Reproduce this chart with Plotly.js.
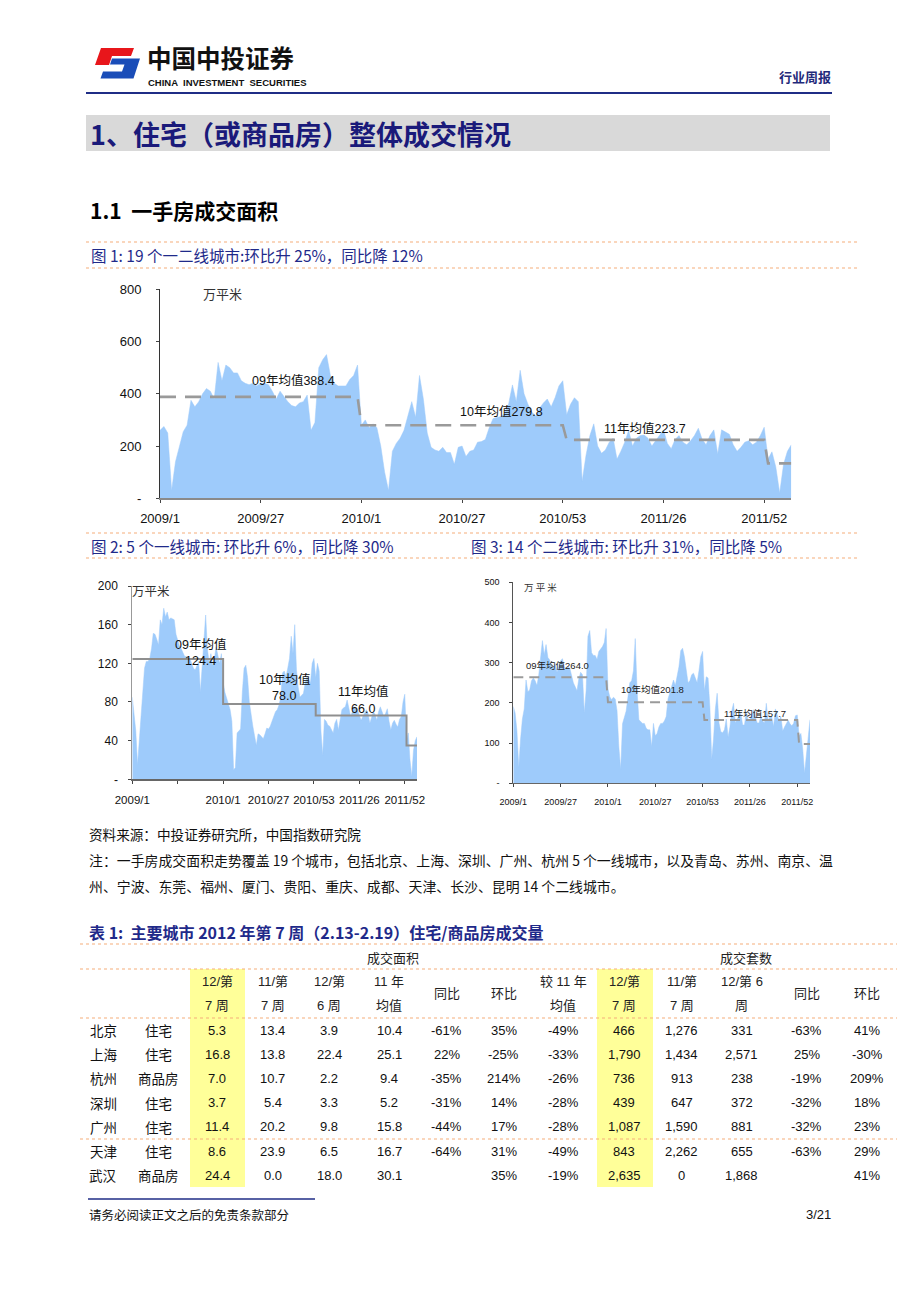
<!DOCTYPE html>
<html><head><meta charset="utf-8">
<script src="https://cdn.plot.ly/plotly-3.0.1.min.js"></script>
<style>html,body{margin:0;padding:0;background:#fff}</style>
</head><body><div id="chart" style="width:920px;height:1302px"></div>
<script>
// ---------------- DATA ----------------
const years = ['2009', '2010', '2011', '2012'];
const weeksPerYear = [52, 53, 52, 7];
const tickWeeks = ['2009/1', '2009/27', '2010/1', '2010/27', '2010/53', '2011/26', '2011/52'];
const tickText2 = ['2009/1', '', '2010/1', '2010/27', '2010/53', '2011/26', '2011/52'];

// 19 cities weekly new-home transaction area (万平米)
const area19 = [260,275,250,30,140,200,255,280,375,350,
  370,400,420,410,380,520,450,510,500,480,
  480,450,440,435,440,430,440,440,435,410,
  380,410,390,370,355,350,365,370,395,260,
  290,500,530,550,470,440,430,430,430,455,
  470,510,280,300,270,285,270,200,100,30,
  180,210,230,260,320,370,310,470,380,250,
  195,185,180,195,175,175,130,195,200,160,
  180,185,215,217,225,270,305,310,313,325,
  360,434,370,490,400,360,330,315,345,365,
  380,350,385,430,450,320,360,385,370,65,
  165,240,285,200,172,185,215,230,150,180,
  215,260,200,230,240,242,230,200,220,240,
  262,210,190,225,240,215,205,220,240,268,
  225,205,240,262,170,262,255,245,205,180,
  195,215,220,205,215,240,272,150,178,120,
  20,130,180,205];
// 5 first-tier cities
const area5 = [85,70,50,15,40,65,90,115,122,122,
  125,135,151,150,145,139,165,160,177,168,
  173,165,167,166,165,150,143,138,135,130,
  127,127,125,125,120,115,113,118,122,90,
  120,150,170,135,120,130,118,125,137,128,
  120,130,100,90,84,78,72,60,10,12,
  48,50,52,90,115,118,105,80,65,55,
  45,35,47,46,44,42,47,53,52,55,
  60,65,70,72,77,85,110,112,106,115,
  125,148,130,160,113,95,85,87,89,100,
  106,103,100,120,125,105,120,112,50,25,
  62,60,56,55,52,48,58,62,51,62,
  72,74,75,82,72,65,70,75,73,72,
  66,61,65,68,72,68,58,64,70,67,
  61,70,75,70,65,68,73,60,51,58,
  61,57,54,62,65,80,88,40,48,20,
  3,30,40,44];
// 14 second-tier cities
const area14 = [191,175,130,40,110,160,185,257,228,232,
  255,262,255,243,270,320,355,320,345,313,
  307,292,285,298,276,290,305,310,290,285,
  288,287,265,250,240,230,260,276,270,175,
  230,365,380,325,318,318,308,328,334,340,
  350,385,235,215,208,214,210,180,90,35,
  148,168,180,215,250,255,280,360,230,158,
  152,149,149,137,133,133,91,149,118,124,
  140,149,149,155,166,210,225,245,257,243,
  268,290,330,336,315,282,250,255,270,274,
  264,250,280,315,328,230,265,262,190,60,
  110,185,224,150,128,126,133,160,115,140,
  180,199,150,160,170,174,145,145,178,155,
  155,172,183,165,150,150,166,155,150,199,
  155,165,165,141,185,170,155,166,130,140,
  150,157,148,143,149,168,170,118,124,85,
  25,75,120,158];

// yearly averages (09, 10, 11, 12)
const avg19 = [388.4, 279.8, 223.7, 133.6];
const avg5 = [124.4, 78.0, 66.0, 35.0];
const avg14 = [264.0, 201.8, 157.7, 98.0];
const avgLabel19 = ['09年均值388.4', '10年均值279.8', '11年均值223.7'];
const avgLabel5a = ['09年均值', '10年均值', '11年均值'];
const avgLabel5b = ['124.4', '78.0', '66.0'];
const avgLabel14 = ['09年均值264.0', '10年均值201.8', '11年均值157.7'];

// Table 1
const cities = ['北京', '上海', '杭州', '深圳', '广州', '天津', '武汉'];
const types = ['住宅', '住宅', '商品房', '住宅', '住宅', '住宅', '商品房'];
const area12w7 = [5.3, 16.8, 7.0, 3.7, 11.4, 8.6, 24.4];
const area11w7 = [13.4, 13.8, 10.7, 5.4, 20.2, 23.9, 0.0];
const area12w6 = [3.9, 22.4, 2.2, 3.3, 9.8, 6.5, 18.0];
const area11avg = [10.4, 25.1, 9.4, 5.2, 15.8, 16.7, 30.1];
const areaYoY = [-61, 22, -35, -31, -44, -64, null];
const areaWoW = [35, -25, 214, 14, 17, 31, 35];
const areaVsAvg = [-49, -33, -26, -28, -28, -49, -19];
const units12w7 = [466, 1790, 736, 439, 1087, 843, 2635];
const units11w7 = [1276, 1434, 913, 647, 1590, 2262, 0];
const units12w6 = [331, 2571, 238, 372, 881, 655, 1868];
const unitsYoY = [-63, 25, -19, -32, -32, -63, null];
const unitsWoW = [41, -30, 209, 18, 23, 29, 41];
const hdrTop = ['12/第', '11/第', '12/第', '11 年', '', '', '较 11 年', '12/第', '11/第', '12/第 6', '', ''];
const hdrBot = ['7 周', '7 周', '6 周', '均值', '', '', '均值', '7 周', '7 周', '周', '', ''];
const hdrMid = ['', '', '', '', '同比', '环比', '', '', '', '', '同比', '环比'];

// ---------------- BUILD ----------------
const W = 920, H = 1302;
const PX = x => x / W, PY = y => 1 - y / H;
const CJK = 'Noto Sans CJK SC, sans-serif';
const LAT = 'Liberation Sans, Arial, Noto Sans CJK SC, sans-serif';

const weeks = [];
years.forEach((yr, k) => { for (let w = 1; w <= weeksPerYear[k]; w++) weeks.push(yr + '/' + w); });

function meanXY(avg) {
  const x = [], y = [];
  years.forEach((yr, k) => { x.push(yr + '/1'); y.push(avg[k]); x.push(yr + '/' + weeksPerYear[k]); y.push(avg[k]); });
  return {x, y};
}

const FILL = '#9ECBFB';
const traces = [];
function areaTrace(vals, xa, ya) {
  return {type: 'scatter', mode: 'lines', x: weeks, y: vals, xaxis: xa, yaxis: ya,
    fill: 'tozeroy', fillcolor: FILL, line: {color: FILL, width: 0.5}, hoverinfo: 'skip'};
}
traces.push(areaTrace(area19, 'x', 'y'));
traces.push(areaTrace(area5, 'x2', 'y2'));
traces.push(areaTrace(area14, 'x3', 'y3'));
const m1 = meanXY(avg19), m2 = meanXY(avg5), m3 = meanXY(avg14);
traces.push({type: 'scatter', mode: 'lines', x: m1.x, y: m1.y, xaxis: 'x', yaxis: 'y',
  line: {color: '#9a9a9a', width: 2.6, dash: '16px,9px'}, hoverinfo: 'skip'});
traces.push({type: 'scatter', mode: 'lines', x: m2.x, y: m2.y, xaxis: 'x2', yaxis: 'y2',
  line: {color: '#8f8f8f', width: 2, shape: 'hv'}, hoverinfo: 'skip'});
traces.push({type: 'scatter', mode: 'lines', x: m3.x, y: m3.y, xaxis: 'x3', yaxis: 'y3',
  line: {color: '#9a9a9a', width: 2, dash: '10px,6px'}, hoverinfo: 'skip'});

function xAx(d, size, ticktext, lineColor, lineW, standoff) {
  return {domain: d, type: 'category', range: [0, weeks.length - 1], tickvals: tickWeeks, ticktext: ticktext,
    showgrid: false, zeroline: false, showline: true, linecolor: lineColor, linewidth: lineW,
    ticks: 'outside', ticklen: 3, tickcolor: '#444', tickangle: 0, ticklabelstandoff: standoff,
    tickfont: {family: LAT, size: size, color: '#111'}, fixedrange: true};
}
function yAx(d, r, vals, size, lineColor, standoff) {
  return {domain: d, range: r, tickvals: vals, ticktext: vals.map(v => v === 0 ? '-' : String(v)),
    showgrid: false, zeroline: false, showline: true, linecolor: lineColor, linewidth: 1,
    ticks: 'outside', ticklen: 3, tickcolor: '#444', ticklabelstandoff: standoff,
    tickfont: {family: LAT, size: size, color: '#111'}, fixedrange: true};
}

const layout = {
  width: W, height: H, margin: {l: 0, r: 0, t: 0, b: 0}, showlegend: false,
  paper_bgcolor: '#fff', plot_bgcolor: 'rgba(0,0,0,0)',
  xaxis: xAx([PX(160), PX(791.3)], 13, tickWeeks, '#8a8a8a', 2, 4),
  yaxis: yAx([PY(498.3), PY(289.3)], [0, 800], [0, 200, 400, 600, 800], 13, '#333', 12),
  xaxis2: Object.assign(xAx([PX(132.3), PX(417)], 11.5, tickText2, '#666', 1.5, 6), {anchor: 'y2'}),
  yaxis2: Object.assign(yAx([PY(779.3), PY(586)], [0, 200], [0, 40, 80, 120, 160, 200], 12, '#999', 8), {anchor: 'x2'}),
  xaxis3: Object.assign(xAx([PX(513.3), PX(810)], 9, tickWeeks, '#666', 1, 7), {anchor: 'y3'}),
  yaxis3: Object.assign(yAx([PY(783.3), PY(582.3)], [0, 500], [0, 100, 200, 300, 400, 500], 9, '#555', 8), {anchor: 'x3'}),
  shapes: [], annotations: []
};
layout.xaxis.anchor = 'y'; layout.yaxis.anchor = 'x';

const S = layout.shapes, A = layout.annotations;
function line(x0, y0, x1, y1, color, w, dash) {
  S.push({type: 'line', xref: 'paper', yref: 'paper', x0: PX(x0), y0: PY(y0), x1: PX(x1), y1: PY(y1),
    line: {color: color, width: w, dash: dash || 'solid'}, layer: 'below'});
}
function rect(x0, y0, x1, y1, fill) {
  S.push({type: 'rect', xref: 'paper', yref: 'paper', x0: PX(x0), y0: PY(y0), x1: PX(x1), y1: PY(y1),
    fillcolor: fill, line: {width: 0}, layer: 'below'});
}
function path(pts, fill) {
  const d = pts.map((p, i) => (i ? 'L' : 'M') + PX(p[0]).toFixed(5) + ',' + PY(p[1]).toFixed(5)).join(' ') + ' Z';
  S.push({type: 'path', xref: 'paper', yref: 'paper', path: d, fillcolor: fill, line: {width: 0}, layer: 'below'});
}
function txt(text, x, y, size, color, family, xanchor, extra) {
  A.push(Object.assign({text: text, x: PX(x), y: PY(y), xref: 'paper', yref: 'paper', showarrow: false,
    xanchor: xanchor || 'left', yanchor: 'middle', borderpad: 0,
    font: {family: family || CJK, size: size, color: color || '#000'}}, extra || {}));
}

// ---- header ----
path([[101, 48], [134, 48], [131, 56], [112, 56], [109, 65], [95, 65]], '#E8161B');
path([[112, 58.5], [140, 58.5], [133.5, 78.5], [100.5, 78.5], [103, 71.5], [122, 71.5], [124.5, 64.5], [110, 64.5]], '#1A4DB8');
txt('<b>中国中投证券</b>', 146, 58, 24.5, '#111', CJK);
txt('<b>CHINA  INVESTMENT  SECURITIES</b>', 147, 82, 9.5, '#111', 'Liberation Sans Narrow, Arial Narrow, sans-serif');
txt('<b>行业周报</b>', 832, 76, 13, '#1F2A7A', CJK, 'right');
line(86, 93, 832, 93, '#1F2D86', 1.8);

// ---- section heading ----
rect(86, 115, 830, 151, '#D9D9D9');
txt('<b>1、住宅（或商品房）整体成交情况</b>', 89, 133, 27, '#1A1A7A', CJK);
txt('<b>1.1  一手房成交面积</b>', 89, 210, 21, '#000', CJK);

// ---- captions ----
const ORANGE = '#F5AE7A';
line(86, 242, 857, 242, ORANGE, 1.2, 'dot');
line(86, 268, 857, 268, ORANGE, 1.2, 'dot');
txt('图 1: 19 个一二线城市:环比升 25%，同比降 12%', 90, 255, 15.5, '#1F2A8A', CJK);
line(86, 533, 857, 533, ORANGE, 1.2, 'dot');
line(86, 558, 857, 558, ORANGE, 1.2, 'dot');
txt('图 2: 5 个一线城市: 环比升 6%，同比降 30%', 90, 546, 15.5, '#1F2A8A', CJK);
txt('图 3: 14 个二线城市: 环比升 31%，同比降 5%', 470, 546, 15.5, '#1F2A8A', CJK);

// ---- chart inner labels ----
txt('万平米', 202, 293, 13, '#333', CJK);
txt(avgLabel19[0], 293, 380, 12.5, '#111', LAT, 'center');
txt(avgLabel19[1], 502, 411, 12.5, '#111', LAT, 'center');
txt(avgLabel19[2], 645, 428, 12.5, '#111', LAT, 'center');

txt('万平米', 131, 590, 12.5, '#333', CJK);
const c2x = [200, 284, 363];
const c2y = [644, 679, 692];
avgLabel5a.forEach((t, i) => { txt(t, c2x[i], c2y[i], 12.5, '#111', LAT, 'center'); txt(avgLabel5b[i], c2x[i], c2y[i] + 17, 12.5, '#111', LAT, 'center'); });

txt('万 平 米', 523, 587, 9.5, '#333', CJK);
txt(avgLabel14[0], 557, 665, 9.5, '#222', LAT, 'center');
txt(avgLabel14[1], 652, 689.5, 9.5, '#222', LAT, 'center');
txt(avgLabel14[2], 755, 713, 9.5, '#222', LAT, 'center');

// ---- notes ----
txt('资料来源：中投证券研究所，中国指数研究院', 88, 834, 13.6, '#111', CJK);
txt('注：一手房成交面积走势覆盖 19 个城市，包括北京、上海、深圳、广州、杭州 5 个一线城市，以及青岛、苏州、南京、温', 88, 860, 13.9, '#111', CJK);
txt('州、宁波、东莞、福州、厦门、贵阳、重庆、成都、天津、长沙、昆明 14 个二线城市。', 88, 886, 13.9, '#111', CJK);

// ---- table ----
txt('<b>表 1:  主要城市 2012 年第 7 周（2.13-2.19）住宅/商品房成交量</b>', 88, 932, 16, '#1F2A8A', CJK);
rect(190, 969, 245, 1187, '#FFFF99');
rect(597, 969, 653, 1187, '#FFFF99');
line(80, 944, 897, 944, ORANGE, 1.2, 'dot');
line(80, 969, 897, 969, ORANGE, 1.2, 'dot');
line(80, 1018, 897, 1018, ORANGE, 1.2, 'dot');
line(80, 1139, 897, 1139, ORANGE, 1.2, 'dot');
txt('成交面积', 393, 957, 13, '#222', CJK, 'center');
txt('成交套数', 746, 957, 13, '#222', CJK, 'center');

const colX = [103, 158, 217, 272.7, 329.3, 389.3, 446.7, 504, 563.3, 624.3, 681.7, 741.7, 806.7, 867.3];
hdrTop.forEach((t, i) => {
  const x = colX[i + 2];
  if (t) txt(t, x, 981.7, 13, '#222', LAT, 'center');
  if (hdrBot[i]) txt(hdrBot[i], x, 1005.7, 13, '#222', LAT, 'center');
  if (hdrMid[i]) txt(hdrMid[i], x, 993.5, 13, '#222', LAT, 'center');
});
const pct = v => v === null ? '' : v + '%';
const num = v => v.toLocaleString('en-US');
cities.forEach((c, r) => {
  const y = 1030 + 24.2 * r;
  const cells = [c, types[r], area12w7[r].toFixed(1), area11w7[r].toFixed(1), area12w6[r].toFixed(1),
    area11avg[r].toFixed(1), pct(areaYoY[r]), pct(areaWoW[r]), pct(areaVsAvg[r]),
    num(units12w7[r]), num(units11w7[r]), num(units12w6[r]), pct(unitsYoY[r]), pct(unitsWoW[r])];
  cells.forEach((t, i) => { if (t !== '') txt(t, colX[i], y, i < 2 ? 13.5 : 13, '#111', i < 2 ? CJK : LAT, 'center'); });
});

// ---- footer ----
line(88, 1199, 315, 1199, '#1F2D86', 1.5);
txt('请务必阅读正文之后的免责条款部分', 88, 1214, 12.5, '#111', CJK);
txt('3/21', 832, 1214, 13, '#111', 'Liberation Sans Narrow, Arial Narrow, sans-serif', 'right');

Plotly.newPlot('chart', traces, layout, {displayModeBar: false, staticPlot: true});
</script>
</body></html>
